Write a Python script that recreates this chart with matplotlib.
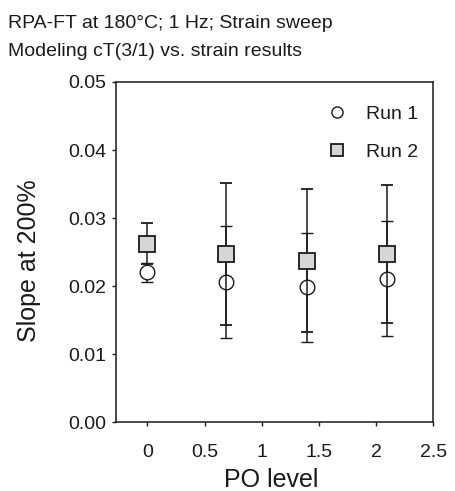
import matplotlib
matplotlib.use("Agg")
import matplotlib.pyplot as plt
from matplotlib.lines import Line2D

plt.rcParams['font.family'] = ['Liberation Sans', 'DejaVu Sans']

# data
po_level = [0.0, 0.69, 1.40, 2.10]
run1 = [0.0220, 0.0206, 0.0198, 0.0211]
run1_err = [0.0014, 0.0082, 0.0080, 0.0084]
run2 = [0.0262, 0.0247, 0.0237, 0.0247]
run2_err = [0.0030, 0.0104, 0.0105, 0.0101]
x_ticks = [0, 0.5, 1, 1.5, 2, 2.5]
x_tick_labels = ['0', '0.5', '1', '1.5', '2', '2.5']
y_ticks = [0.00, 0.01, 0.02, 0.03, 0.04, 0.05]
y_tick_labels = ['0.00', '0.01', '0.02', '0.03', '0.04', '0.05']

fig = plt.figure(figsize=(4.55, 4.91), dpi=100)
ax = fig.add_axes([0.255, 0.1405, 0.697, 0.6925])

ink = '#1a1a1a'
ax.errorbar(po_level, run1, yerr=run1_err, fmt='o', ms=10.5, mfc='white',
            mec=ink, mew=1.0, ecolor=ink, elinewidth=1.1, capsize=4.5,
            capthick=1.1, zorder=3)
ax.errorbar(po_level, run2, yerr=run2_err, fmt='s', ms=11, mfc='#d6d6d6',
            mec=ink, mew=1.3, ecolor=ink, elinewidth=1.1, capsize=4.5,
            capthick=1.1, zorder=4)

ax.set_xlim(-0.275, 2.5)
ax.set_ylim(0, 0.05)
ax.set_xticks(x_ticks)
ax.set_xticklabels(x_tick_labels)
ax.set_yticks(y_ticks)
ax.set_yticklabels(y_tick_labels)
ax.tick_params(direction='out', length=3, width=1, labelsize=14, colors=ink)
ax.tick_params(axis='y', pad=4)
ax.tick_params(axis='x', pad=13)
for s in ax.spines.values():
    s.set_linewidth(1.1)
    s.set_color(ink)

ax.set_xlabel('PO level', fontsize=18, color=ink)
ax.set_ylabel('Slope at 200%', fontsize=18, color=ink)
ax.xaxis.set_label_coords(0.49, -0.136)
ax.yaxis.set_label_coords(-0.238, 0.475)

handles = [
    Line2D([], [], ls='none', marker='o', ms=8, mfc='white', mec=ink, mew=1.0),
    Line2D([], [], ls='none', marker='s', ms=8.5, mfc='#d6d6d6', mec=ink, mew=1.3),
]
ax.legend(handles, ['Run 1', 'Run 2'], loc='upper right', frameon=False,
          fontsize=14, handletextpad=0.45, labelspacing=1.05,
          borderaxespad=0.8, labelcolor=ink, bbox_to_anchor=(1.025, 1.0))

fig.text(0.018, 0.952, 'RPA-FT at 180°C; 1 Hz; Strain sweep', fontsize=14,
         color=ink, va='center')
fig.text(0.018, 0.895, 'Modeling cT(3/1) vs. strain results', fontsize=14,
         color=ink, va='center')

fig.savefig('out.png', dpi=100)
